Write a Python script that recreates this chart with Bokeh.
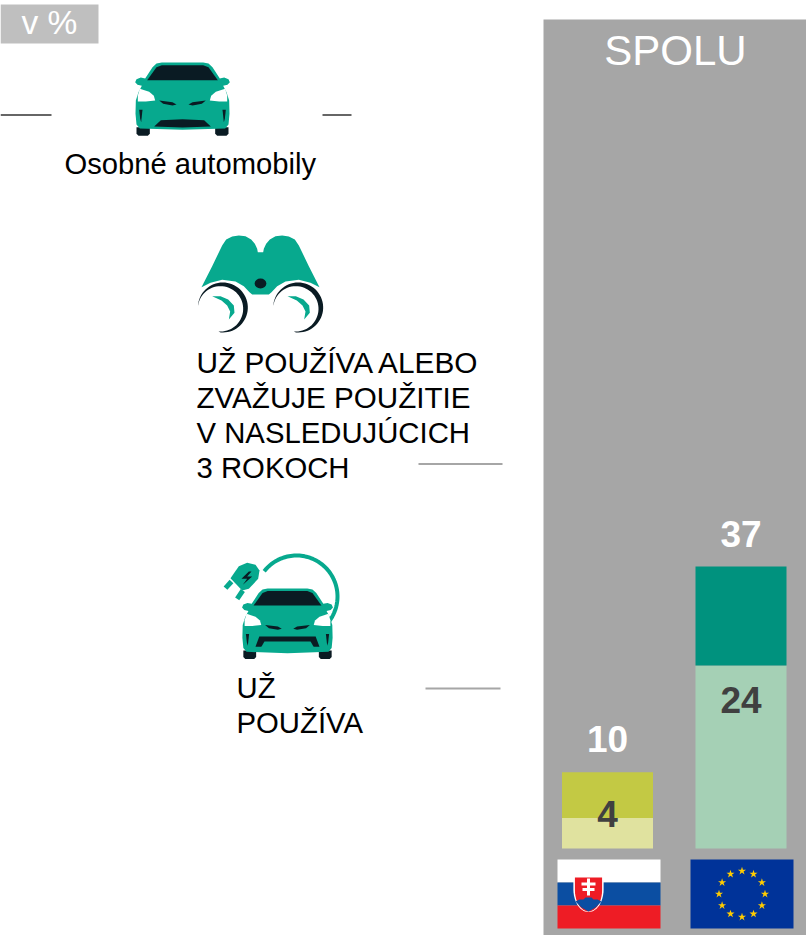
import numpy as np
from bokeh.plotting import figure
from bokeh.models import Range1d
from bokeh.core.properties import value
from bokeh.embed import file_html
from bokeh.resources import INLINE

# ---- data ----
countries = ["Slovensko", "EÚ"]
uses_or_considers = [10, 37]
already_uses = [4, 24]
title = "SPOLU"
unit = "v %"

TEAL = "#07A98E"
DARK = "#0A1B23"
FONT = value("Liberation Sans")
BASE_SHIFT = 0.38  # em, distance the renderer puts text below the requested baseline

PX_PER_UNIT = 7.62
BASE_Y = 848
X0, BAR_STEP = 607, 133.5

W, H = 806, 935
p = figure(width=W, height=H, output_backend="svg", toolbar_location=None,
           x_range=Range1d(0, W), y_range=Range1d(H, 0),
           min_border=0, min_border_left=0, min_border_right=0, min_border_top=0, min_border_bottom=0)
p.axis.visible = False
p.grid.visible = False
p.outline_line_color = None
p.extra_y_ranges = {"pct": Range1d((BASE_Y - H) / PX_PER_UNIT, BASE_Y / PX_PER_UNIT)}
p.extra_x_ranges = {"idx": Range1d(-X0 / BAR_STEP, (W - X0) / BAR_STEP)}


def txt(x, y, s, size, color="#000000", align="left", style="normal"):
    p.text([x], [y - BASE_SHIFT * size], text=[s], text_font=FONT, text_font_size=f"{size}px", text_color=color,
           text_align=align, text_baseline="alphabetic", text_font_style=style)


def poly(pts, color, ox=0.0, oy=0.0, k=1.0):
    a = np.array(pts, dtype=float)
    p.patch(ox + a[:, 0] * k, oy + a[:, 1] * k, fill_color=color, line_color=None)


def both(pts, color, cx, top, k):
    """Draw a shape and its mirror image; pts in 3x zoom units relative to the axis."""
    a = np.array(pts, dtype=float)
    for sgn in (1, -1):
        p.patch(cx + sgn * a[:, 0] / 3 * k, top + (a[:, 1] - 36) / 3 * k, fill_color=color, line_color=None)


def car(cx, top, k=1.0, ev=False):
    half = [(0, 36), (62, 36), (78, 39), (90, 50), (112, 84), (125, 81), (138, 86), (142, 95), (135, 103),
            (122, 106), (132, 125), (140, 150), (141, 190), (138, 222), (128, 234), (0, 238)]
    a = np.array(half, dtype=float)
    xs = np.concatenate([a[:, 0], -a[::-1, 0]])
    ys = np.concatenate([a[:, 1], a[::-1, 1]])
    both([(98, 230), (138, 230), (138, 250), (132, 256), (104, 256), (98, 250)], DARK, cx, top, k)
    p.patch(cx + xs / 3 * k, top + (ys - 36) / 3 * k, fill_color=TEAL, line_color=None)
    wind = [(-62, 44), (62, 44), (78, 50), (106, 89), (-106, 89), (-78, 50)]
    poly([(x / 3 * k, (y - 36) / 3 * k) for x, y in wind], DARK, cx, top)
    both([(82, 150), (86, 136), (100, 124), (128, 115), (134, 135), (134, 153), (110, 153)], "#FFFFFF", cx, top, k)
    both([(18, 162), (30, 155), (70, 150), (58, 160), (30, 165)], DARK, cx, top, k)
    both([(120, 178), (130, 178), (127, 205), (124, 215)], DARK, cx, top, k)
    if ev:
        grille = [(-88, 186), (88, 186), (100, 218), (-100, 218)]
        cut = [(-72, 202), (72, 202), (82, 219), (-82, 219)]
        poly([(x / 3 * k, (y - 36) / 3 * k) for x, y in grille], DARK, cx, top)
        poly([(x / 3 * k, (y - 36) / 3 * k) for x, y in cut], TEAL, cx, top)
    else:
        grille = [(-65, 209), (0, 206), (65, 209), (85, 228), (0, 231), (-85, 228)]
        poly([(x / 3 * k, (y - 36) / 3 * k) for x, y in grille], DARK, cx, top)


def crescent(ox, oy, c, r, a0, a1, c2, r2, color):
    t = np.radians(np.linspace(a0, a1, 50))
    x = np.concatenate([c[0] + r * np.cos(t), c2[0] + r2 * np.cos(t[::-1])])
    y = np.concatenate([c[1] + r * np.sin(t), c2[1] + r2 * np.sin(t[::-1])])
    p.patch(ox + x / 3, oy + y / 3, fill_color=color, line_color=None)


def binoculars(ox, oy):
    left = [(48, 185), (80, 122), (110, 60), (122, 42), (140, 33), (160, 30), (180, 32), (197, 42), (208, 55),
            (215, 70), (217, 80)]
    under = [(200, 207), (192, 200), (175, 182), (150, 168), (110, 163), (75, 172)]
    right = [(450 - x, y) for x, y in reversed(left)]
    under_r = [(450 - x, y) for x, y in reversed(under)]
    body = left + right + under_r + under
    poly([(x / 3, y / 3) for x, y in body], TEAL, ox, oy)
    p.ellipse([ox + 225 / 3], [oy + 174 / 3], width=35 / 3, height=30 / 3, fill_color=DARK, line_color=None)
    for dx in (0, 226):
        crescent(ox + dx / 3, oy, (112, 246), 75, -172, 95, (105, 250), 68, DARK)
        pts = [(80, 212), (105, 212), (128, 222), (145, 240), (147, 262), (130, 282), (134, 258), (125, 240), (108, 225)]
        poly([((x + dx) / 3, y / 3) for x, y in pts], TEAL, ox, oy)


def plug(ox, oy):
    t = np.radians(np.linspace(-142, 51, 80))
    p.line(296 + 41 * np.cos(t), 596 + 41 * np.sin(t), line_color=TEAL, line_width=4)
    body = [(45, 98), (70, 62), (95, 52), (120, 58), (132, 75), (128, 100), (100, 130), (80, 135)]
    poly([(x / 3, y / 3) for x, y in body], TEAL, ox, oy)
    for a, b in (((48, 108), (30, 128)), ((82, 135), (65, 160))):
        p.line([ox + a[0] / 3, ox + b[0] / 3], [oy + a[1] / 3, oy + b[1] / 3], line_color=TEAL, line_width=5)
    bolt = [(100, 78), (78, 100), (95, 100), (82, 118), (110, 93), (95, 93), (108, 78)]
    poly([(x / 3, y / 3) for x, y in bolt], DARK, ox, oy)


def flag_sk(x0, y0):
    w, h = 103, 23
    for i, c in enumerate(["#FFFFFF", "#0B4EA2", "#EE1C25"]):
        p.quad(left=[x0], right=[x0 + w], top=[y0 + i * h], bottom=[y0 + (i + 1) * h], fill_color=c, line_color=None)
    t = np.radians(np.linspace(0, 90, 12))
    rx, ry = 14, 22
    sx = np.concatenate([[-rx, rx], rx * np.cos(t), -rx * np.cos(t[::-1])])
    sy = np.concatenate([[0, 0], 13 + ry * np.sin(t), 13 + ry * np.sin(t[::-1])])
    p.patch(588 + sx * 1.08, 876 + sy * 1.03 - 0.5, fill_color="#FFFFFF", line_color=None)
    p.patch(588 + sx * 0.97, 877 + sy * 0.97, fill_color="#EE1C25", line_color=None)
    hills = [(-13, 901), (-9, 899), (-5, 899), (-3, 897), (3, 897), (5, 899), (9, 899), (13, 901),
             (7, 907), (0, 911), (-7, 907)]
    poly(hills, "#0B4EA2", 588, 0)
    for (x1, y1, x2, y2) in [(586.5, 878, 589.5, 895), (581, 882, 595, 885), (582, 887.5, 594, 890.5)]:
        p.quad(left=[x1], right=[x2], top=[y1], bottom=[y2], fill_color="#FFFFFF", line_color=None)


def flag_eu(x0, y0):
    p.quad(left=[x0], right=[x0 + 103], top=[y0], bottom=[y0 + 69], fill_color="#003399", line_color=None)
    t = np.radians(np.arange(0, 360, 30))
    p.scatter(741.5 + 23 * np.cos(t), 893.5 + 23 * np.sin(t), marker="star", size=8.5,
              fill_color="#FFCC00", line_color=None)


# ---- background panels ----
p.quad(left=[543], right=[W], top=[19], bottom=[H], fill_color="#A6A6A6", line_color=None)
p.quad(left=[0], right=[98], top=[4], bottom=[43], fill_color="#BFBFBF", line_color=None)

# ---- bars, through the value scale ----
idx = list(range(len(countries)))
BW = 91 / BAR_STEP
for i, upper, lower, col_up, col_low in [(0, uses_or_considers[0], already_uses[0], "#C3C944", "#E0E29F"),
                                          (1, uses_or_considers[1], already_uses[1], "#00927E", "#A5D0B5")]:
    p.vbar(x=[i], width=BW, bottom=[0], top=[lower], fill_color=col_low, line_color=None,
           x_range_name="idx", y_range_name="pct")
    p.vbar(x=[i], width=BW, bottom=[lower], top=[upper], fill_color=col_up, line_color=None,
           x_range_name="idx", y_range_name="pct")

p.text(x=idx, y=uses_or_considers, text=[str(v) for v in uses_or_considers], x_range_name="idx", y_range_name="pct",
       text_font=FONT, text_font_size="37px", text_font_style="bold", text_color="#FFFFFF",
       text_align="center", text_baseline="alphabetic", y_offset=-33)
p.text(x=idx, y=already_uses, text=[str(v) for v in already_uses], x_range_name="idx", y_range_name="pct",
       text_font=FONT, text_font_size="37px", text_font_style="bold", text_color="#404040",
       text_align="center", text_baseline="alphabetic", y_offset=[-4, 34])

# ---- leader lines ----
for x0, x1, y, c in [(0, 51, 114.5, "#666666"), (322, 351, 114.5, "#666666"),
                     (418, 502, 463.5, "#A6A6A6"), (425, 500, 688, "#A6A6A6")]:
    p.line([x0, x1], [y, y], line_color=c, line_width=2)

# ---- pictograms ----
car(182, 62)
binoculars(185, 225)
plug(215, 545)
car(287, 588, 0.96, ev=True)
flag_sk(557, 859)
flag_eu(690, 859)

# ---- texts ----
txt(21, 35, unit, 33.5, "#FFFFFF")
txt(675, 66, title, 42, "#FFFFFF", align="center")
txt(64, 175, "Osobné automobily", 29.2)
for i, (line, size) in enumerate([("UŽ POUŽÍVA ALEBO", 29.8), ("ZVAŽUJE POUŽITIE", 29.6),
                                  ("V NASLEDUJÚCICH", 29.3), ("3 ROKOCH", 29.3)]):
    txt(196, 373 + 35 * i, line, size)
for i, line in enumerate(["UŽ", "POUŽÍVA"]):
    txt(236, 698 + 35 * i, line, 29.3)

open("out.html", "w").write(file_html(p, INLINE))
